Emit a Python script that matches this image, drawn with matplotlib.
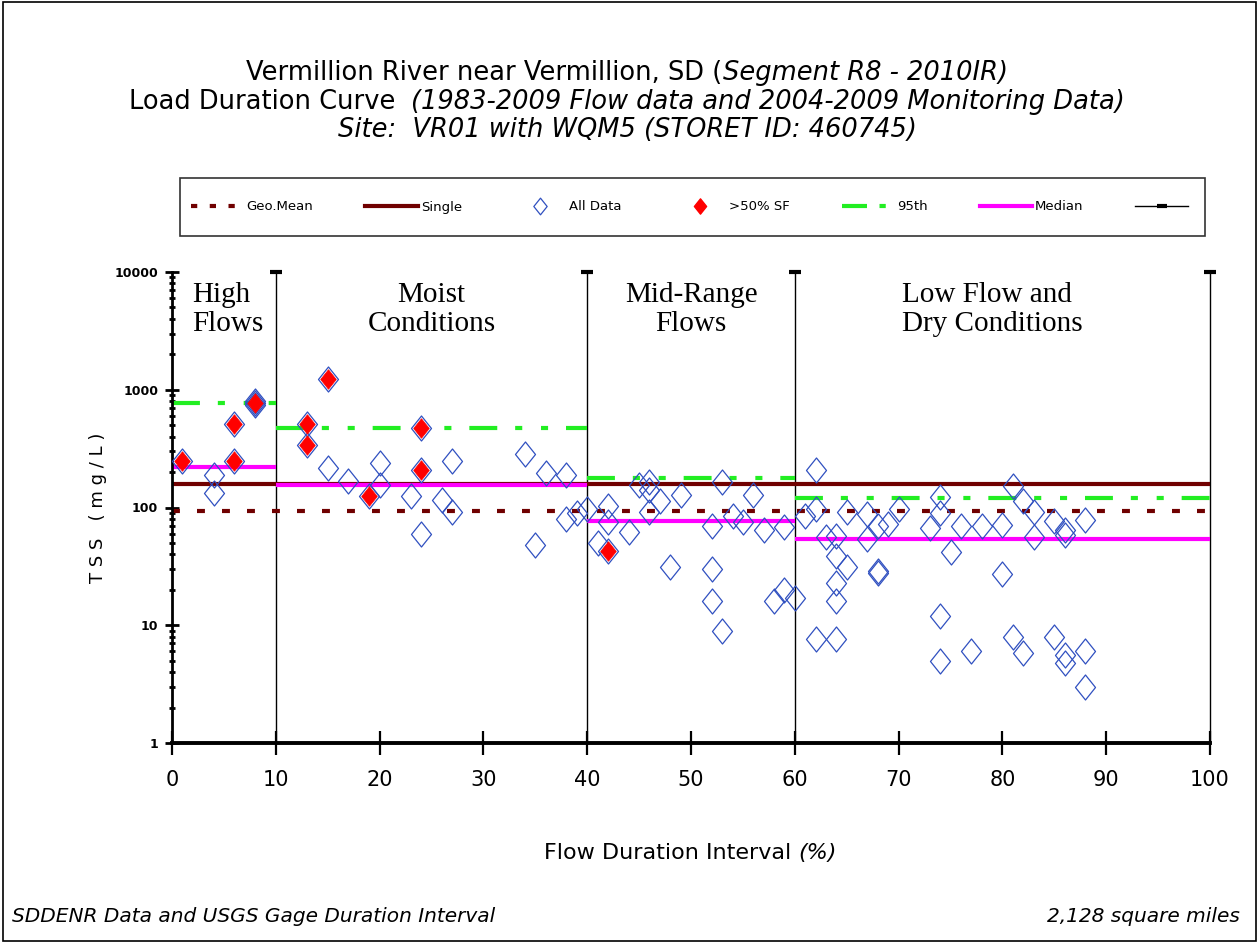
import matplotlib
matplotlib.use('Agg')
import matplotlib.pyplot as plt
from matplotlib.lines import Line2D
from matplotlib.path import Path
from matplotlib.patches import Rectangle

# zones of the flow duration curve
zone_names = ['High\nFlows', 'Moist\nConditions', 'Mid-Range\nFlows', 'Low Flow and\nDry Conditions']
zone_lo = [0, 10, 40, 60]
zone_hi = [10, 40, 60, 100]

# criteria / statistics lines (mg/L)
p95 = [770, 475, 177, 120]
median = [222, 156, 77, 54]
geo_mean = 93
single = 157

# samples > 50% storm flow (red)
sf_x = [1, 6, 6, 8, 13, 13, 15, 19, 24, 24, 42]
sf_y = [250, 510, 250, 770, 510, 340, 1230, 125, 470, 208, 43]

# all samples
all_x = [1, 6, 6, 8, 13, 13, 15, 19, 24, 24, 42,
         4, 4, 8, 8,
         15, 17, 20, 20, 23, 24, 26, 27, 27, 34, 35, 36, 38, 38, 39,
         40, 41, 42, 42, 44, 45, 46, 46, 47, 46, 48, 49, 52, 52, 52, 53, 53, 54, 55, 56, 57, 58, 59, 59, 60,
         61, 62, 62, 62, 63, 64, 64, 64, 64, 64, 65, 65, 67, 67, 68, 68, 68, 69, 70, 73, 74, 74, 74, 74,
         75, 76, 77, 78, 80, 80, 81, 81, 82, 82, 83, 83, 85, 85, 86, 86, 86, 86, 88, 88, 88]
all_y = [250, 510, 250, 770, 510, 340, 1230, 125, 470, 208, 43,
         190, 133, 800, 740,
         215, 168, 238, 155, 125, 60, 116, 250, 92, 285, 48, 195, 189, 80, 89,
         97, 50, 102, 76, 62, 155, 166, 140, 113, 92, 31, 128, 69, 30, 16, 166, 9, 84, 76, 128, 64, 16, 68, 20, 17,
         84, 208, 98, 7.7, 56, 57, 39, 23, 16, 7.7, 92, 31, 88, 54, 28, 29, 70, 73, 97, 67, 122, 90, 12, 5,
         42, 69, 6, 69, 71, 27, 152, 8, 113, 5.8, 92, 56, 77, 8, 64, 58, 5.6, 4.8, 78, 6, 3]

BROWN = '#700000'
GREEN = '#22ee22'
MAGENTA = '#ff00ff'
BLUE = '#3050c0'

diamond = Path([(0, 1), (0.8, 0), (0, -1), (-0.8, 0), (0, 1)],
               [Path.MOVETO, Path.LINETO, Path.LINETO, Path.LINETO, Path.CLOSEPOLY])

fig = plt.figure(figsize=(12.59, 9.43), dpi=100)
ax = fig.add_axes([172 / 1259, 1 - 743 / 943, 1038 / 1259, 471 / 943])
ax.set_yscale('log')
ax.set_xlim(0, 100)
ax.set_ylim(1, 10000)

# statistic lines
geo_dash = (1.9, 4.1)
p95_dash = (6.7, 4.3, 1.7, 4.5, 1.7, 4.3)
ax.plot([0, 100], [single, single], color=BROWN, lw=3, solid_capstyle='butt', zorder=2)
ax.plot([0, 100], [geo_mean, geo_mean], color=BROWN, lw=3, dashes=geo_dash, zorder=2)
for lo, hi, p, m in zip(zone_lo, zone_hi, p95, median):
    ax.plot([lo, hi], [p, p], color=GREEN, lw=3, dashes=p95_dash, zorder=2)
    ax.plot([lo, hi], [m, m], color=MAGENTA, lw=3, solid_capstyle='butt', zorder=2)

# zone dividers
for hi in zone_hi:
    ax.plot([hi, hi], [1, 10000], color='k', lw=1, zorder=1, clip_on=False)
    ax.plot([hi], [10000], marker='_', color='k', ms=9, mew=3, clip_on=False, zorder=3)

label_x = [1.9, 25, 50, 70.3]
label_ha = ['left', 'center', 'center', 'left']
for name, lx, lha in zip(zone_names, label_x, label_ha):
    ax.text(lx, 8200, name, ha=lha, va='top', fontsize=21,
            family='Liberation Serif', linespacing=1.15)

# samples
ax.plot(all_x, all_y, ls='none', marker=diamond, ms=18, mfc='none', mec=BLUE, mew=0.9, zorder=4)
ax.plot(sf_x, sf_y, ls='none', marker=diamond, ms=14, mfc='red', mec='red', mew=0.5, zorder=5)

# axes styling
for s in ['top', 'right']:
    ax.spines[s].set_visible(False)
ax.spines['left'].set_linewidth(2)
ax.spines['bottom'].set_linewidth(2.8)
ax.set_xticks(range(0, 101, 10))
ax.tick_params(axis='x', direction='inout', length=17, width=1.6, pad=11, labelsize=15)
ax.tick_params(axis='y', which='major', direction='inout', length=10, width=2, pad=5)
ax.tick_params(axis='y', which='minor', direction='inout', length=5, width=2)
ax.set_yticks([1, 10, 100, 1000, 10000])
ax.set_yticklabels(['1', '10', '100', '1000', '10000'], fontsize=9, fontweight='bold')
ax.set_ylabel('T S S   ( m g / L )', fontsize=13)
ax.yaxis.set_label_coords(-0.063, 0.5)

# legend
handles = [
    Line2D([], [], color=BROWN, lw=3, dashes=(1.5, 3)),
    Line2D([], [], color=BROWN, lw=3),
    Line2D([], [], ls='none', marker=diamond, ms=12, mfc='none', mec=BLUE, mew=0.9),
    Line2D([], [], ls='none', marker=diamond, ms=11, mfc='red', mec='red'),
    Line2D([], [], color=GREEN, lw=3, dashes=(6, 3, 1.5, 3)),
    Line2D([], [], color=MAGENTA, lw=3),
    Line2D([], [], color='k', lw=1, marker='_', ms=7, mew=3),
]
labels = ['Geo.Mean', 'Single', 'All Data', '>50% SF', '95th', 'Median', '']
fig.legend(handles, labels, ncol=7, loc='center', mode='expand',
           bbox_to_anchor=(186 / 1259, 1 - 220 / 943, 1010 / 1259, 26 / 943),
           fontsize=9.5, handlelength=4, handletextpad=0.2, columnspacing=1.0,
           frameon=False, borderaxespad=0)
fig.patches.append(Rectangle((180 / 1259, 1 - 236 / 943), 1025 / 1259, 58 / 943,
                             transform=fig.transFigure, fill=False, edgecolor='#333333', lw=1.2))

# mixed normal / italic text lines
renderer = fig.canvas.get_renderer()
W = 1259.0


def mixed_line(y_px, parts, size, cx=627, ha='center'):
    texts = []
    for s, style in parts:
        t = fig.text(0, 1 - y_px / 943, s, fontsize=size, style=style, va='center')
        texts.append(t)
    widths = [t.get_window_extent(renderer).width for t in texts]
    total = sum(widths)
    if ha == 'center':
        x0 = cx - total / 2
    elif ha == 'left':
        x0 = cx
    else:
        x0 = cx - total
    for t, w in zip(texts, widths):
        t.set_x(x0 / W)
        x0 += w


mixed_line(73, [('Vermillion River near Vermillion, SD (', 'normal'),
                ('Segment R8 - 2010IR)', 'italic')], 18.5)
mixed_line(102, [('Load Duration Curve  ', 'normal'),
                 ('(1983-2009 Flow data and 2004-2009 Monitoring Data)', 'italic')], 18.5)
mixed_line(130, [('Site:  VR01 with WQM5 (STORET ID: 460745)', 'italic')], 18.5)
mixed_line(853, [('Flow Duration Interval ', 'normal'), ('(%)', 'italic')], 16, cx=690)
mixed_line(917, [('SDDENR Data and USGS Gage Duration Interval', 'italic')], 14.5, cx=12, ha='left')
mixed_line(917, [('2,128 square miles', 'italic')], 14.5, cx=1240, ha='right')

# outer frame
fig.patches.append(Rectangle((0.002, 0.002), 0.996, 0.996, transform=fig.transFigure,
                             fill=False, edgecolor='k', lw=1.2))

fig.savefig('out.png', dpi=100)
